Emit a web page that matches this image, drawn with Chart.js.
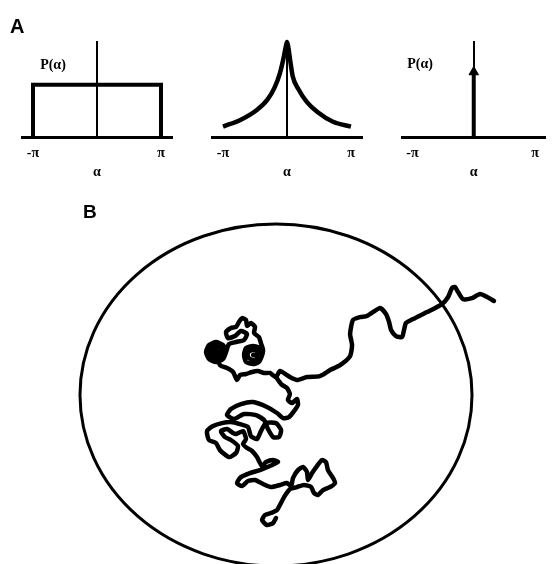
<!DOCTYPE html>
<html>
<head>
<meta charset="utf-8">
<script src="https://cdn.jsdelivr.net/npm/chart.js@4.4.1/dist/chart.umd.min.js"></script>
<style>
  html, body { margin: 0; padding: 0; background: #fff; }
  #fig { position: relative; width: 552px; height: 564px; overflow: hidden; background: #fff; }
  #fig canvas { position: absolute; }
</style>
</head>
<body>
<div id="fig">
  <canvas id="panelA1" width="190" height="190" style="left:0;top:0"></canvas>
  <canvas id="panelA2" width="190" height="190" style="left:190px;top:0"></canvas>
  <canvas id="panelA3" width="172" height="190" style="left:380px;top:0"></canvas>
  <canvas id="panelB" width="552" height="374" style="left:0;top:190px"></canvas>
</div>
<script>
const PI = Math.PI;

// ---- Panel A: turning-angle distributions P(alpha), alpha in radians ----
const alphaTicks = [-PI, PI];
const alphaTickLabels = ['-π', 'π'];

// uniform distribution over [-π, π]
const uniformAlpha = [-PI, -PI, PI, PI];
const uniformP = [0, 0.55, 0.55, 0];

// sharply peaked distribution around alpha = 0
const peakedAlpha = [-3.14, -2.29, -1.48, -0.97, -0.60, -0.35, -0.19, -0.06, 0,
                     0.06, 0.16, 0.28, 0.57, 0.97, 1.51, 2.26, 3.14];
const peakedP = [0.11, 0.18, 0.285, 0.39, 0.525, 0.67, 0.81, 0.95, 1.0,
                 0.95, 0.80, 0.64, 0.50, 0.37, 0.26, 0.16, 0.11];

// delta function at alpha = 0 (straight-line motion)
const deltaAlpha = [0, 0];
const deltaP = [0, 0.684];
const deltaHeadP = 0.684;

// ---- Panel B: walker track inside a circular domain of radius 100 ----
const domainRadius = 100;

// two dense knots, their tail and the excursion that leaves the domain
const trackX = [
  -11.7,-9.2,-10.2,-12.2,-14.3,-14.3,-12.2,-9.7,-9.2,-7.1,-8.7,-11.7,-15.3,-16.3,-15.3,-11.7,-8.2,-7.1,-6.6,
  -7.7,-8.7,-11.2,-10.7,-12.8,-14.8,-15.3,-17.3,-18.9,-20.4,-23.0,-25.5,-24.5,-20.9,-17.9,-14.8,-16.3,-20.4,-24.0,
  -25.5,-27.0,-30.6,-34.2,-35.7,-34.2,-30.6,-27.0,-25.5,-27.6,-28.6,-30.6,-32.7,-33.7,-32.7,-30.6,-28.6,-27.6,-29.6,-30.6,-31.6,-30.6,
  -28.6,-25.0,-21.9,-19.9,-18.4,-15.3,-12.2,-9.2,-6.1,-3.1,0,
  2.0,7.1,10.7,15.8,22.4,27.6,32.7,37.8,38.8,37.8,39.3,42.9,46.4,53.1,56.1,57.7,58.7,61.2,64.3,65.3,
  66.3,69.9,77.0,84.7,87.8,89.8,91.3,92.9,95.4,100.0,104.1,107.7,111.2
];
const trackY = [
  23.4,22.8,20.5,20.5,22.2,25.1,26.3,25.7,22.8,23.4,19.3,18.1,19.3,23.4,27.5,28.7,27.5,23.4,26.3,
  30.4,33.9,36.3,39.8,42.1,40.4,43.9,45.0,42.7,39.8,39.2,36.8,33.3,34.5,37.4,35.7,32.2,31.0,29.8,
  25.1,21.1,19.3,21.1,25.1,29.2,31.0,29.2,25.1,25.1,22.8,21.6,22.8,25.1,27.5,28.7,27.5,25.1,25.1,24.0,25.1,26.3,
  17.5,15.8,13.5,8.8,11.7,12.3,13.5,14.0,12.9,12.9,10.5,
  14.0,10.5,8.8,10.5,11.1,14.6,17.5,22.8,29.2,35.7,43.9,45.6,46.2,50.9,47.4,42.7,38.0,34.5,33.9,38.0,
  42.1,44.4,48.5,53.2,57.3,62.6,63.2,60.2,56.1,56.7,59.1,57.3,55.0
];

// lower branch: from the junction down through the two tangled clusters
const branchX = [
  0,2.6,5.6,7.1,6.1,8.2,10.7,11.2,9.2,6.6,3.6,0.5,-4.6,-11.7,-17.9,-23.0,-25.0,-21.4,-16.3,-10.2,
  -6.1,-4.1,-1.5,1.5,2.6,0,-5.1,-7.7,-9.7,-12.8,-14.3,-18.4,-23.0,-27.6,-32.1,-35.2,-34.2,-30.6,-28.6,-24.0,
  -20.4,-19.4,-23.0,-26.0,-28.1,-25.0,-21.9,-20.4,-16.8,-15.3,-16.8,-14.8,-12.2,-9.7,-7.1,-5.1,-1.5,1.0,-3.1,-8.2,-13.3,-17.9,-19.9,-17.3,
  -14.3,-10.7,-6.6,-2.6,2.0,5.6,7.7,8.7,11.2,13.8,15.8,16.3,18.4,20.9,23.5,25.5,26.5,29.1,30.1,27.6,
  24.0,21.4,19.4,17.9,14.3,10.7,7.1,5.1,3.6,2.0,0.5,-2.6,-5.6,-7.1,-4.6,-1.5,0
];
const branchY = [
  10.5,6.4,4.1,0.6,-2.9,-4.7,-2.3,-5.8,-9.4,-12.9,-13.5,-10.5,-7.0,-4.1,-5.3,-8.2,-11.7,-14.0,-11.1,-11.7,
  -14.6,-19.9,-24.6,-24.6,-20.5,-16.4,-16.4,-21.1,-25.7,-24.0,-18.7,-17.0,-15.8,-16.4,-18.1,-21.1,-26.3,-28.1,-32.2,-36.3,
  -33.9,-29.8,-26.3,-24.6,-21.1,-19.9,-22.2,-22.8,-21.1,-25.7,-28.7,-31.0,-32.7,-36.3,-41.5,-39.2,-38.0,-39.2,-41.5,-43.9,-45.6,-48.0,-51.5,-53.2,
  -50.3,-49.7,-52.0,-53.8,-52.6,-51.5,-53.2,-48.5,-43.9,-42.1,-45.0,-49.7,-45.6,-41.5,-38.0,-39.2,-43.9,-48.5,-51.5,-53.8,
  -55.6,-58.5,-57.3,-53.8,-52.6,-53.8,-55.0,-57.9,-60.8,-64.3,-67.3,-69.0,-70.2,-73.1,-76.0,-74.9,-71.9
];

const pts = (xs, ys) => xs.map((x, i) => ({ x, y: ys[i] }));

const SERIF = "'Liberation Serif', 'DejaVu Serif', serif";
const SANS = "'Liberation Sans', Arial, sans-serif";
const INK = '#000';

// free text drawn at data coordinates (x, y) or canvas pixels (px, py)
const figText = {
  id: 'figText',
  defaults: { items: [] },
  afterDraw(chart, args, opts) {
    const ctx = chart.ctx;
    for (const it of opts.items) {
      const x = it.px !== undefined ? it.px : chart.scales.x.getPixelForValue(it.x);
      const y = it.py !== undefined ? it.py : chart.scales.y.getPixelForValue(it.y);
      ctx.save();
      ctx.font = it.font;
      ctx.fillStyle = INK;
      ctx.textAlign = it.align || 'center';
      ctx.textBaseline = it.baseline || 'middle';
      ctx.fillText(it.text, x, y);
      ctx.restore();
    }
  }
};

// boundary of the circular domain, scaled through the chart axes
const domainCircle = {
  id: 'domainCircle',
  defaults: { radius: 1, width: 3 },
  beforeDatasetsDraw(chart, args, opts) {
    const { ctx, scales: { x, y } } = chart;
    const cx = x.getPixelForValue(0), cy = y.getPixelForValue(0);
    const rx = Math.abs(x.getPixelForValue(opts.radius) - cx);
    const ry = Math.abs(y.getPixelForValue(opts.radius) - cy);
    ctx.save();
    ctx.beginPath();
    ctx.ellipse(cx, cy, rx, ry, 0, 0, 2 * Math.PI);
    ctx.lineWidth = opts.width;
    ctx.strokeStyle = INK;
    ctx.stroke();
    ctx.restore();
  }
};

const lineSet = (data, width, extra) => Object.assign({
  data, showLine: true, pointRadius: 0, borderColor: INK, backgroundColor: INK,
  borderWidth: width, clip: false, borderJoinStyle: 'round'
}, extra || {});

function distributionPanel(id, datasets, padRight, items) {
  const tickFont = { family: SERIF, size: 14, weight: 'bold', lineHeight: 1.2 };
  return new Chart(document.getElementById(id), {
    type: 'scatter',
    data: { datasets },
    options: {
      responsive: false,
      animation: false,
      devicePixelRatio: 1,
      layout: { padding: { top: 42, left: 22, right: padRight, bottom: 9 } },
      plugins: {
        legend: { display: false },
        tooltip: { enabled: false },
        figText: { items }
      },
      scales: {
        x: {
          type: 'linear',
          position: 'bottom',
          min: -1.172 * PI,
          max: 1.172 * PI,
          grid: { display: false, drawTicks: false },
          border: { display: true, width: 3, color: INK },
          ticks: {
            padding: 8, color: INK, font: tickFont, maxRotation: 0, autoSkip: false,
            callback: (v, i) => alphaTickLabels[i]
          },
          afterBuildTicks: (s) => { s.ticks = alphaTicks.map(v => ({ value: v })); },
          afterFit: (s) => { s.height = 44; },
          title: { display: true, text: 'α', color: INK, font: tickFont, padding: { top: 0, bottom: 0 } }
        },
        y: {
          type: 'linear',
          position: { x: 0 },
          min: 0,
          max: 1,
          grid: { display: false, drawTicks: false },
          border: { display: true, width: 2, color: INK },
          ticks: { display: false }
        }
      }
    },
    plugins: [figText]
  });
}

const pLabelFont = "bold 14px " + SERIF;

distributionPanel('panelA1',
  [lineSet(pts(uniformAlpha, uniformP), 4, { borderJoinStyle: 'miter' })],
  18,
  [
    { text: 'A', px: 10, py: 33, font: 'bold 20px ' + SANS, align: 'left', baseline: 'alphabetic' },
    { text: 'P(α)', x: -2.16, y: 0.758, font: pLabelFont }
  ]);

distributionPanel('panelA2',
  [lineSet(pts(peakedAlpha, peakedP), 4.5, { cubicInterpolationMode: 'monotone', borderCapStyle: 'butt' })],
  18,
  []);

distributionPanel('panelA3',
  [
    lineSet(pts(deltaAlpha, deltaP), 4),
    {
      data: [{ x: 0, y: deltaHeadP }], showLine: false, pointStyle: 'triangle',
      pointRadius: 5.5, pointBorderWidth: 1, borderColor: INK, backgroundColor: INK, clip: false
    }
  ],
  0,
  [{ text: 'P(α)', x: -2.75, y: 0.768, font: pLabelFont }]);

new Chart(document.getElementById('panelB'), {
  type: 'scatter',
  data: {
    datasets: [
      lineSet(pts(trackX, trackY), 4.5, { tension: 0.2, borderCapStyle: 'round' }),
      lineSet(pts(branchX, branchY), 4.5, { tension: 0.2, borderCapStyle: 'round' })
    ]
  },
  options: {
    responsive: false,
    animation: false,
    devicePixelRatio: 1,
    layout: { padding: 0 },
    plugins: {
      legend: { display: false },
      tooltip: { enabled: false },
      domainCircle: { radius: domainRadius, width: 3 },
      figText: { items: [{ text: 'B', px: 83, py: 28, font: 'bold 19px ' + SANS, align: 'left', baseline: 'alphabetic' }] }
    },
    scales: {
      x: { type: 'linear', display: false, min: -140.8, max: 140.8 },
      y: { type: 'linear', display: false, min: -98.8, max: 119.9 }
    }
  },
  plugins: [domainCircle, figText]
});
</script>
</body>
</html>
